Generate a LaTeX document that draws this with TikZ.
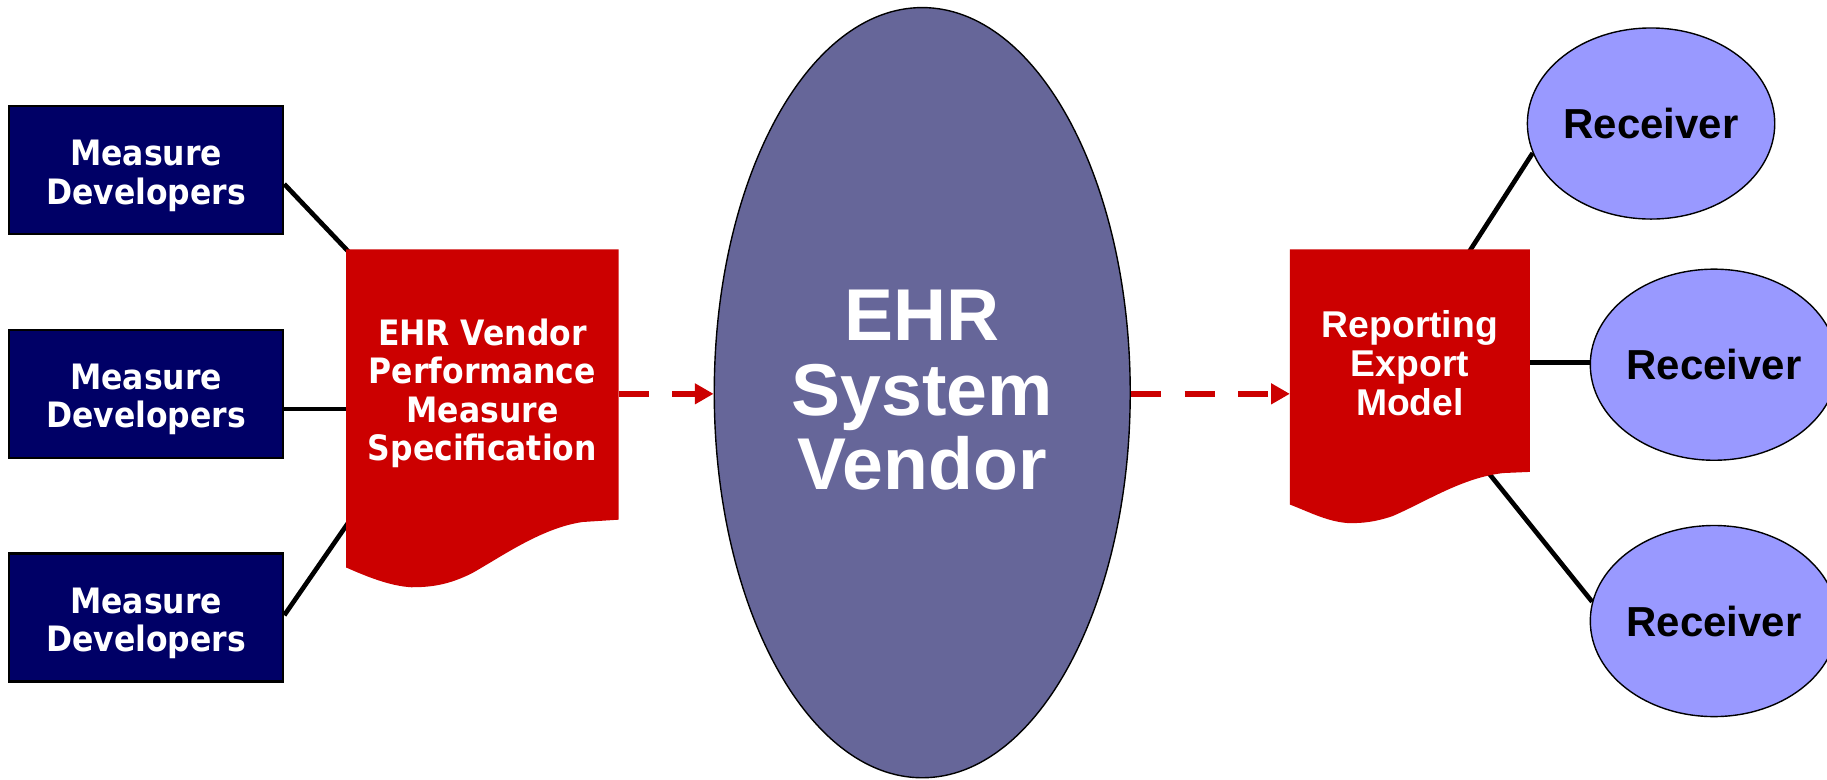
\documentclass[tikz,border=0pt]{standalone}
\usepackage{fontspec}
\setmainfont{Liberation Sans}
\newfontfamily\tahfont{DejaVu Sans Condensed}
\usetikzlibrary{shapes.geometric,calc,arrows.meta}
\pgfdeclarelayer{bg}
\pgfsetlayers{bg,main}
\definecolor{navy}{RGB}{0,0,102}
\definecolor{docred}{RGB}{204,0,0}
\definecolor{ehrfill}{RGB}{102,102,153}
\definecolor{recfill}{RGB}{153,153,255}
\begin{document}
\begin{tikzpicture}[x=0.5pt,y=-0.5pt,
  mbox/.style={rectangle, draw=black, line width=1pt, fill=navy,
    minimum width=117.5pt, minimum height=55pt, inner sep=0pt},
  boxtext/.style={text=white, align=center, inner sep=0pt,
    font=\tahfont\bfseries\fontsize{15}{16.5}\selectfont},
  doctext/.style={text=white, align=center, inner sep=0pt,
    font=\tahfont\bfseries\fontsize{15}{16.5}\selectfont},
  reptext/.style={text=white, align=center, inner sep=0pt,
    font=\bfseries\fontsize{16}{16.75}\selectfont},
  ehrnode/.style={ellipse, draw=black, line width=0.6pt, fill=ehrfill, text=white,
    minimum width=178.5pt, minimum height=330.5pt, align=center, inner sep=0pt,
    font=\bfseries\fontsize{31.5}{32}\selectfont},
  recnode/.style={ellipse, draw=black, line width=0.6pt, fill=recfill,
    minimum width=103pt, minimum height=82pt, inner sep=0pt,
    font=\bfseries\fontsize{18}{20}\selectfont},
  docshape/.style={fill=docred},
  conn/.style={line width=2pt, black},
  darrow/.style={line width=2.5pt, docred, dash pattern=on 13pt off 10pt,
    -{Triangle[length=8pt,width=8.5pt]}},
]
\useasboundingbox (0,0) rectangle (1568,669);

% measure developer boxes
\node[mbox] (b1) at (125.5,146) {};
\node[mbox] (b2) at (125.5,338) {};
\node[mbox] (b3) at (125.5,530) {};
\node[boxtext] (t1) at ($(b1.center)+(0,5)$) {Measure\\Developers};
\node[boxtext] (t2) at ($(b2.center)+(0,5)$) {Measure\\Developers};
\node[boxtext] (t3) at ($(b3.center)+(0,5)$) {Measure\\Developers};

% document 1
\fill[docshape] (297,214) -- (531,214) -- (531,446) -- (500,448)
  .. controls (465,453) and (430,478) .. (405,492)
  .. controls (385,502) and (370,504) .. (353,504)
  .. controls (335,503) and (315,495) .. (297,487) -- cycle;
\node[doctext] (d1) at (414,337.5) {EHR Vendor\\Performance\\Measure\\Specification};
\coordinate (d1tl) at (301,218);
\coordinate (d1w) at (300,351);
\coordinate (d1bl) at (300,447);
\coordinate (d1e) at (531,338);

% EHR system vendor
\node[ehrnode] (ehr) at (791.5,337) {};
\node[text=white, align=center, inner sep=0pt,
  font=\bfseries\fontsize{31.5}{32}\selectfont] (ehrt) at ($(ehr.center)+(0,-2)$) {EHR\\System\\Vendor};

% document 2
\fill[docshape] (1107,214) -- (1313,214) -- (1313,405) -- (1290,406)
  .. controls (1255,410) and (1225,430) .. (1195,443)
  .. controls (1180,448) and (1170,449) .. (1158,449)
  .. controls (1140,448) and (1125,440) .. (1107,433) -- cycle;
\node[reptext] (d2) at (1210,311.5) {Reporting\\Export\\Model};
\coordinate (d2w) at (1107,338);
\coordinate (d2e) at (1313,311);
\coordinate (d2t) at (1259,219);
\coordinate (d2b) at (1272,399);

% receivers
\node[recnode] (r1) at (1417,106) {Receiver};
\node[recnode] (r2) at (1471,313) {Receiver};
\node[recnode] (r3) at (1471,533) {Receiver};

% dashed arrows
\draw[darrow] (d1e) -- (ehr.west |- d1e);
\draw[darrow] (ehr.east |- d2w) -- (d2w);

% connectors behind
\begin{pgfonlayer}{bg}
\draw[conn] ($(b1.east)+(0,12)$) -- (d1tl);
\draw[conn] ($(b2.east)+(0,13)$) -- (d1w);
\draw[conn] ($(b3.east)+(0,-2)$) -- (d1bl);
\draw[conn] (d2t) -- (r1.194);
\draw[conn] (d2e) -- (r2.west |- d2e);
\draw[conn] (d2b) -- (r3.171);
\end{pgfonlayer}
\end{tikzpicture}
\end{document}
